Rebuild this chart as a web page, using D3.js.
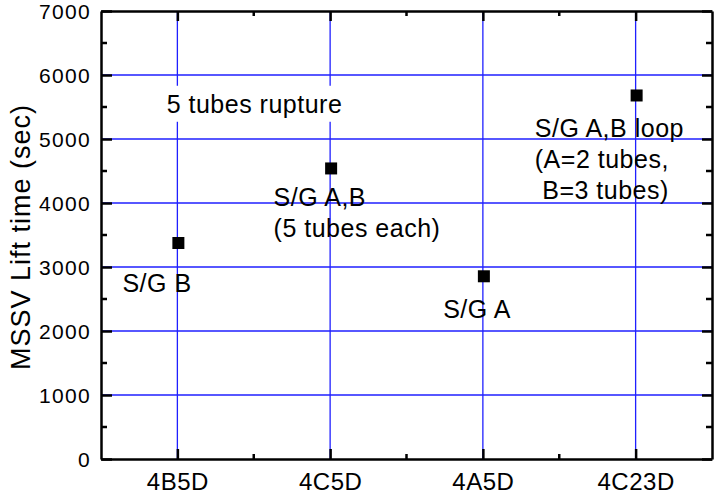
<!DOCTYPE html>
<html>
<head>
<meta charset="utf-8">
<script src="https://cdn.jsdelivr.net/npm/d3@7"></script>
<style>
  html, body { margin: 0; padding: 0; background: #fff; }
  svg { display: block; font-family: "Liberation Sans", Arial, sans-serif; }
</style>
</head>
<body>
<svg id="chart" width="715" height="495"></svg>
<script>
// Break cases on the x axis and the MSSV lift time (sec) of each
const cases = ["4B5D", "4C5D", "4A5D", "4C23D"];
const liftTime = [3375, 4540, 2855, 5680];
const yTicks = [0, 1000, 2000, 3000, 4000, 5000, 6000, 7000];

// Text notes, anchored in data coordinates (case position, value of first baseline)
const noteCase = [-0.36, 0.63, 1.74, 2.34, -0.07];
const noteValue = [2610, 3950, 2200, 5030, 5410];
const noteLines = [
  ["S/G B"],
  ["S/G A,B", "(5 tubes each)"],
  ["S/G A"],
  ["S/G A,B loop", "(A=2 tubes,", " B=3 tubes)"],
  ["5 tubes rupture"]
];

const svg = d3.select("#chart");
const plotL = 101, plotR = 712, plotT = 11, plotB = 459;

const x = d3.scaleLinear().domain([-0.5, cases.length - 0.5]).range([plotL, plotR]);
const y = d3.scaleLinear().domain([0, 7000]).range([plotB, plotT]);

const grid = "#1f1fff";

// grid lines
svg.append("g").selectAll("line").data(yTicks.slice(1, -1)).join("line")
  .attr("x1", plotL).attr("x2", plotR)
  .attr("y1", d => y(d)).attr("y2", d => y(d))
  .attr("stroke", grid).attr("stroke-width", 1.3);
svg.append("g").selectAll("line").data(cases).join("line")
  .attr("x1", (d, i) => x(i)).attr("x2", (d, i) => x(i))
  .attr("y1", plotT).attr("y2", plotB)
  .attr("stroke", grid).attr("stroke-width", 1.3);

// notes (the rupture note sits on a white box that hides the grid behind it)
const fontSize = 25;
noteLines.forEach((lines, k) => {
  const g = svg.append("g");
  const t = g.append("text")
    .attr("x", x(noteCase[k])).attr("y", y(noteValue[k]))
    .attr("font-size", fontSize).attr("fill", "#000")
    .attr("letter-spacing", 0.5)
    .attr("xml:space", "preserve");
  lines.forEach((line, j) => {
    t.append("tspan").attr("x", x(noteCase[k])).attr("dy", j === 0 ? 0 : 31).text(line);
  });
  if (k === 4) {
    const bb = t.node().getBBox();
    g.insert("rect", "text")
      .attr("x", bb.x - 8).attr("y", bb.y - 4)
      .attr("width", bb.width + 16).attr("height", bb.height + 8)
      .attr("fill", "#fff");
  }
});

// markers
const sq = 12;
svg.append("g").selectAll("rect").data(liftTime).join("rect")
  .attr("x", (d, i) => x(i) + 1 - sq / 2)
  .attr("y", d => y(d) - sq / 2)
  .attr("width", sq).attr("height", sq)
  .attr("fill", "#000");

// axes: ticks pointing inward on all four sides
const axisW = 2.5;
const bottomAxis = d3.axisBottom(x).tickValues(d3.range(cases.length)).tickSize(-10).tickSizeOuter(0)
  .tickFormat(i => cases[i]);
const topAxis = d3.axisTop(x).tickValues(d3.range(cases.length)).tickSize(-10).tickSizeOuter(0).tickFormat("");
const leftAxis = d3.axisLeft(y).tickValues(yTicks).tickSize(-11).tickSizeOuter(0).tickFormat(d3.format("d"));
const rightAxis = d3.axisRight(y).tickValues(yTicks).tickSize(-10).tickSizeOuter(0).tickFormat("");

const minorX = d3.range(cases.length - 1).map(i => i + 0.5);
const minorY = d3.range(500, 7000, 1000);

function styleAxis(g) {
  g.select(".domain").attr("stroke", "#000").attr("stroke-width", axisW);
  g.selectAll(".tick line").attr("stroke", "#000").attr("stroke-width", 2.5);
  g.selectAll("text").attr("fill", "#000").attr("font-family", "Liberation Sans, Arial, sans-serif");
}

const gb = svg.append("g").attr("transform", `translate(0,${plotB})`).call(bottomAxis).call(styleAxis);
gb.selectAll("text").attr("font-size", 24).attr("dy", 0).attr("y", 31).attr("letter-spacing", 0.5);
gb.call(g => g.append("g").selectAll("line").data(minorX).join("line")
  .attr("x1", d => x(d)).attr("x2", d => x(d)).attr("y1", 0).attr("y2", -5)
  .attr("stroke", "#000").attr("stroke-width", 2.5));

const gt = svg.append("g").attr("transform", `translate(0,${plotT})`).call(topAxis).call(styleAxis);
gt.call(g => g.append("g").selectAll("line").data(minorX).join("line")
  .attr("x1", d => x(d)).attr("x2", d => x(d)).attr("y1", 0).attr("y2", 5)
  .attr("stroke", "#000").attr("stroke-width", 2.5));

const gl = svg.append("g").attr("transform", `translate(${plotL},0)`).call(leftAxis).call(styleAxis);
gl.selectAll("text").attr("font-size", 21).attr("x", -10).attr("dy", "0.34em").attr("letter-spacing", 1.3);
gl.call(g => g.append("g").selectAll("line").data(minorY).join("line")
  .attr("y1", d => y(d)).attr("y2", d => y(d)).attr("x1", 0).attr("x2", 6)
  .attr("stroke", "#000").attr("stroke-width", 2.5));

const gr = svg.append("g").attr("transform", `translate(${plotR},0)`).call(rightAxis).call(styleAxis);
gr.call(g => g.append("g").selectAll("line").data(minorY).join("line")
  .attr("y1", d => y(d)).attr("y2", d => y(d)).attr("x1", 0).attr("x2", -6)
  .attr("stroke", "#000").attr("stroke-width", 2.5));

// y axis title
svg.append("text")
  .attr("transform", `translate(30,${(plotT + plotB) / 2 + 2}) rotate(-90)`)
  .attr("text-anchor", "middle")
  .attr("font-size", 27).attr("letter-spacing", 1)
  .attr("fill", "#000")
  .text("MSSV Lift time (sec)");
</script>
</body>
</html>
